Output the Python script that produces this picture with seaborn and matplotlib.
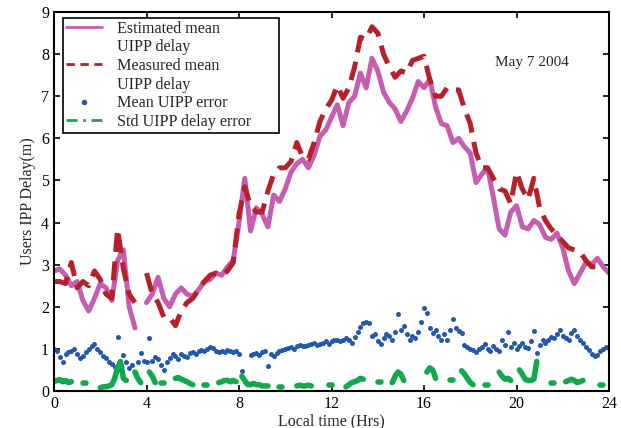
import numpy as np
import pandas as pd
import matplotlib
matplotlib.use("Agg")
import matplotlib.pyplot as plt
from matplotlib.lines import Line2D
import seaborn as sns

nan = np.nan

# ---- data (hours, metres) ----
t_main = np.arange(0, 24.01, 0.25)
est_mean = [2.85, 2.90, 2.75, 2.50, 2.60, 2.15, 1.90, 2.20, 2.55, 2.45, 2.15, 3.10,
            3.35, 2.00, 1.50, nan, 2.10, 2.30, 2.70, 2.20, 2.00, 2.30, 2.45, 2.30,
            2.25, 2.40, 2.60, 2.65, 2.80, 2.75, 2.95, 3.10, 4.00, 5.05, 3.80, 4.35,
            4.20, 3.90, 4.65, 4.50, 4.80, 5.20, 5.40, 5.50, 5.30, 5.60, 6.05, 6.20,
            6.50, 6.80, 6.30, 6.85, 7.00, 7.55, 7.20, 7.90, 7.60, 7.10, 6.85, 6.70,
            6.40, 6.65, 6.95, 7.35, 7.20, 7.40, 6.75, 6.35, 6.30, 5.90, 6.00, 5.80,
            5.65, 4.95, 5.15, 5.30, 4.60, 3.85, 3.70, 4.25, 4.40, 3.90, 3.85, 4.05,
            3.95, 3.65, 3.60, 3.75, 3.40, 2.85, 2.55, 2.80, 3.05, 3.00, 3.15, 2.95, 2.80]
meas_mean = [2.60, 2.60, 2.55, 3.05, 2.45, 2.60, 2.50, 2.85, 2.65, 2.30, 2.20, 3.85,
             2.90, 2.30, 2.10, nan, 2.80, 2.30, 2.10, 1.75, 1.75, 1.55, 1.90, 2.10,
             2.20, 2.40, 2.60, 2.75, 2.80, 2.75, 2.85, 3.05, 4.20, 4.85, 4.40, 4.25,
             4.25, 4.75, 5.15, 5.30, 5.30, 5.45, 5.90, 5.55, 5.50, 5.90, 6.40, 6.70,
             6.90, 7.25, 6.95, 7.20, 7.70, 8.40, 8.35, 8.65, 8.50, 8.00, 7.70, 7.45,
             7.60, 7.55, 7.85, 7.90, 7.95, 7.40, 7.00, 7.00, 7.20, 7.15, 7.15, 6.70,
             6.35, 5.65, 5.30, 5.30, 5.05, 4.80, 4.75, 4.45, 5.20, 4.80, 4.55, 5.05,
             4.35, 4.05, 3.85, 3.70, 3.55, 3.40, 3.35, 3.30, 3.10, 2.95, 2.95, nan, nan]

t_err = np.arange(0, 24.01, 0.125)
mean_err = [1.00, 0.95, 0.80, 0.70, 0.88, 0.92, 0.95, 1.00, 0.88, 0.78, 0.82, 0.92,
            1.00, 1.08, 1.12, 1.00, 0.92, 0.82, 0.78, 0.70, 0.65, 0.58, 1.28, 0.62,
            0.85, 0.70, 0.55, 0.62, 0.45, 0.68, 0.90, 0.72, 0.70, 1.27, 0.72, 0.80,
            0.75, 0.62, 0.50, 0.68, 0.78, 0.88, 0.82, 0.76, 0.88, 0.82, 0.80, 0.90,
            0.92, 0.88, 0.95, 0.98, 0.96, 1.00, 1.05, 1.02, 0.95, 0.92, 0.95, 0.92,
            0.98, 0.96, 0.92, 0.95, 0.88, 0.48, 0.22, nan, 0.85, 0.88, 0.90, 0.86,
            0.92, 0.94, 0.60, 0.88, 0.82, 0.90, 0.95, 0.98, 1.00, 1.02, 1.05, 1.00,
            1.08, 1.10, 1.06, 1.08, 1.10, 1.12, 1.15, 1.10, 1.12, 1.15, 1.18, 1.12,
            1.18, 1.20, 1.22, 1.18, 1.20, 1.25, 1.20, 1.15, 1.28, 1.40, 1.52, 1.62,
            1.65, 1.62, 1.30, 1.35, 1.18, 1.12, 1.25, 1.35, 1.30, 1.22, 1.40, 1.82,
            1.45, 1.55, 1.35, 1.22, 1.30, 1.25, 1.40, 1.65, 1.98, 1.85, 1.50, 1.38,
            1.45, 1.30, 1.22, 1.35, 1.20, 1.45, 1.70, 1.50, 1.42, 1.38, 1.10, 1.05,
            1.00, 0.98, 0.92, 1.00, 1.05, 1.12, 1.00, 0.95, 1.08, 1.00, 0.95, 1.22,
            1.10, 1.40, 1.05, 1.15, 1.00, 1.08, 1.15, 1.05, 1.02, 1.18, 1.42, 0.90,
            1.10, 1.20, 1.15, 1.22, 1.28, 1.25, 1.35, 1.45, 1.30, 1.25, 1.20, 1.38,
            1.45, 1.30, 1.20, 1.15, 1.05, 0.98, 0.88, 0.82, 0.85, 0.95, 1.00, 1.05, 1.02]
std_err = [0.22, 0.25, 0.27, 0.22, 0.25, 0.20, 0.22, nan, nan, nan, 0.18, 0.18,
           nan, nan, nan, nan, 0.08, 0.10, 0.10, 0.12, 0.15, 0.30, 0.55, 0.70,
           0.30, 0.25, nan, nan, 0.45, 0.30, 0.20, nan, nan, 0.45, 0.35, 0.20,
           nan, 0.18, 0.18, nan, nan, nan, 0.30, 0.32, 0.28, 0.25, 0.22, 0.18,
           0.15, nan, nan, nan, 0.15, 0.15, nan, nan, nan, 0.20, 0.22, 0.25,
           0.25, 0.22, 0.25, 0.22, nan, 0.35, 0.25, 0.15, 0.15, 0.18, 0.15, 0.15,
           0.12, 0.12, 0.12, nan, nan, nan, 0.10, 0.10, nan, nan, nan, nan,
           0.12, 0.14, 0.12, 0.12, 0.14, 0.12, nan, nan, nan, nan, nan, 0.14,
           0.14, nan, nan, nan, nan, 0.10, 0.15, 0.20, 0.22, 0.25, 0.30, 0.28,
           nan, nan, nan, nan, 0.22, 0.22, nan, nan, nan, 0.20, 0.35, 0.45,
           0.40, 0.25, nan, nan, 0.18, nan, nan, nan, nan, 0.45, 0.55, 0.50,
           0.30, nan, nan, nan, nan, 0.25, 0.25, nan, nan, 0.48, 0.40, 0.30,
           0.20, 0.15, nan, nan, nan, 0.15, 0.15, nan, nan, nan, 0.45, 0.35,
           0.28, 0.30, 0.25, nan, nan, 0.50, 0.40, 0.28, 0.25, 0.25, 0.28, 0.70,
           nan, nan, nan, nan, 0.20, 0.20, nan, nan, nan, 0.22, 0.25, 0.28,
           0.25, 0.20, 0.22, 0.25, nan, nan, nan, nan, nan, 0.15, 0.15, nan, nan]

x_ticks = [0, 4, 8, 12, 16, 20, 24]
y_ticks = list(range(0, 10))
labels = ["Estimated mean\nUIPP delay", "Measured mean\nUIPP delay",
          "Mean UIPP error", "Std UIPP delay error"]
date_text = "May 7 2004"

c_est, c_meas, c_mean, c_std = "#C55DB0", "#B5202A", "#2458AC", "#12A84C"


def segments(t, v):
    v = np.asarray(v, dtype=float)
    seg = np.cumsum(np.isnan(v))
    df = pd.DataFrame({"t": t, "v": v, "seg": seg})
    return df.dropna()


sns.set_style("ticks")
plt.rcParams["font.family"] = ["Liberation Serif", "DejaVu Serif"]
plt.rcParams["font.size"] = 11

fig = plt.figure(figsize=(6.21, 4.28), dpi=100)
ax = fig.add_axes([54 / 621, 37 / 428, 555 / 621, 379 / 428])

sns.lineplot(data=segments(t_main, est_mean), x="t", y="v", units="seg", estimator=None,
             sort=False, color=c_est, lw=3.6, ax=ax, legend=False)
sns.lineplot(data=segments(t_main, meas_mean), x="t", y="v", units="seg", estimator=None,
             sort=False, color=c_meas, lw=3.6, linestyle=(0, (3.8, 1.9)), ax=ax, legend=False)
sns.scatterplot(x=t_err, y=np.asarray(mean_err, dtype=float), color=c_mean, s=13,
                linewidth=0, ax=ax, legend=False)
sns.lineplot(data=segments(t_err, std_err), x="t", y="v", units="seg", estimator=None,
             sort=False, color=c_std, lw=4.0, ax=ax, legend=False)

ax.set_xlim(0, 24)
ax.set_ylim(0, 9)
ax.set_xticks(x_ticks)
ax.set_yticks(y_ticks)
ax.tick_params(direction="in", top=True, right=True, length=4, width=1.2,
               labelsize=11.5, colors="black")
for s in ax.spines.values():
    s.set_visible(True)
    s.set_linewidth(1.5)
    s.set_color("black")
ax.set_xlabel("Local time (Hrs)", fontsize=11.5, labelpad=1)
ax.set_ylabel("Users IPP Delay(m)", fontsize=11.5, labelpad=4)

ax.text(20.67, 7.8, date_text, ha="center", va="center", fontsize=11)

blank = Line2D([], [], lw=0, color="none")
handles = [Line2D([], [], color=c_est, lw=2), blank,
           Line2D([], [], color=c_meas, lw=2, linestyle=(0, (3, 2))), blank,
           Line2D([], [], color=c_mean, lw=0, marker="o", markersize=3),
           Line2D([], [], color=c_std, lw=2, linestyle=(0, (4, 2, 1, 2)))]
leg_labels = []
for lab in labels:
    leg_labels.extend(lab.split("\n"))
leg = ax.legend(handles, leg_labels, loc="upper left",
                bbox_to_anchor=(9 / 555, 0, 216 / 555, 0.985), mode="expand",
                borderaxespad=0, fancybox=False, framealpha=1, edgecolor="black",
                fontsize=11.6, labelspacing=0.16, handlelength=2.2, handletextpad=0.95,
                borderpad=0.2)
leg.get_frame().set_linewidth(1.2)

fig.savefig("out.png", dpi=100)
